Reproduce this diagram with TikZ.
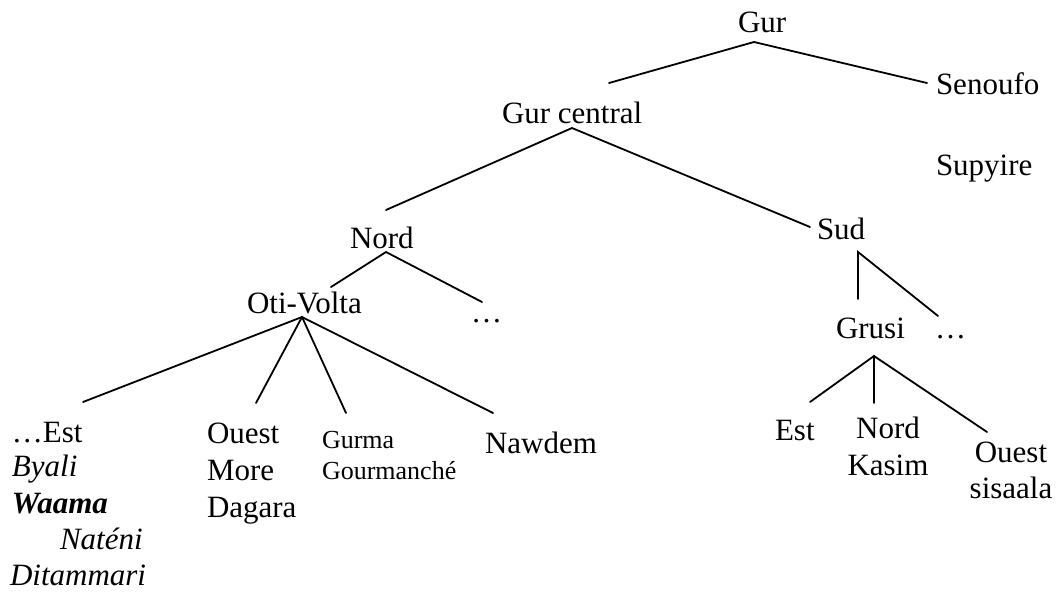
\documentclass[tikz,border=0pt]{standalone}
\usepackage{fontspec}
\setmainfont{Liberation Serif}
\begin{document}
\begin{tikzpicture}[x=1pt,y=-1pt,
  lbl/.style={inner sep=0pt,outer sep=0pt,anchor=base west,font=\fontsize{31}{37}\selectfont},
  lblc/.style={lbl,anchor=base},
  sml/.style={lbl,font=\fontsize{26}{31}\selectfont},
  edge/.style={line width=1.8pt,line cap=round}]
\useasboundingbox (0,0) rectangle (1057,594);
% labels
\node[lbl] (gur) at (738,33) {Gur};
\node[lbl] (senoufo) at (936,94) {Senoufo};
\node[lbl] (gurc) at (502,123) {Gur central};
\node[lbl] (supyire) at (936,175) {Supyire};
\node[lbl] (nord) at (350,248) {Nord};
\node[lbl] (sud) at (817,239) {Sud};
\node[lbl] (oti) at (247,313) {Oti-Volta};
\node[lbl] (dotsA) at (471,322) {…};
\node[lbl] (grusi) at (836,338) {Grusi};
\node[lbl] (dotsB) at (935,338) {…};
\node[lbl] (estA) at (12,442) {…Est};
\node[lbl] (byali) at (12,476) {\itshape Byali};
\node[lbl] (waama) at (12,513) {\bfseries\itshape Waama};
\node[lbl] (nateni) at (60,549) {\itshape Naténi};
\node[lbl] (ditammari) at (10,585) {\itshape Ditammari};
\node[lbl] (ouestA) at (207,443) {Ouest};
\node[lbl] (more) at (207,480) {More};
\node[lbl] (dagara) at (207,517) {Dagara};
\node[sml] (gurma) at (322,448) {Gurma};
\node[sml] (gourmanche) at (322,479) {Gourmanché};
\node[lbl] (nawdem) at (485,453) {Nawdem};
\node[lbl] (estB) at (775,440) {Est};
\node[lblc] (nordB) at (888,438) {Nord};
\node[lblc] (kasim) at (888,475) {Kasim};
\node[lblc] (ouestB) at (1011,462) {Ouest};
\node[lblc] (sisaala) at (1011,498) {sisaala};
% connector points
\coordinate (gurT) at (754,42);
\coordinate (gurL) at (609,83);
\coordinate (gurR) at (927,83);
\coordinate (gurcT) at (572,128);
\coordinate (gurcL) at (386,210);
\coordinate (gurcR) at (810,227);
\coordinate (nordT) at (386,252);
\coordinate (nordL) at (331,287);
\coordinate (nordR) at (482,302);
\coordinate (sudT) at (858,252);
\coordinate (sudL) at (858,299);
\coordinate (sudR) at (938,316);
\coordinate (otiT) at (302,317);
\coordinate (otiA) at (83,402);
\coordinate (otiB) at (256,403);
\coordinate (otiC) at (346,413);
\coordinate (otiD) at (493,413);
\coordinate (grusiT) at (874,356);
\coordinate (grusiA) at (810,402);
\coordinate (grusiB) at (874,403);
\coordinate (grusiC) at (987,432);
% connectors
\draw[edge] (gurL) -- (gurT) -- (gurR);
\draw[edge] (gurcL) -- (gurcT) -- (gurcR);
\draw[edge] (nordL) -- (nordT) -- (nordR);
\draw[edge] (sudL) -- (sudT) -- (sudR);
\draw[edge] (otiT) -- (otiA);
\draw[edge] (otiT) -- (otiB);
\draw[edge] (otiT) -- (otiC);
\draw[edge] (otiT) -- (otiD);
\draw[edge] (grusiT) -- (grusiA);
\draw[edge] (grusiT) -- (grusiB);
\draw[edge] (grusiT) -- (grusiC);
\end{tikzpicture}
\end{document}
